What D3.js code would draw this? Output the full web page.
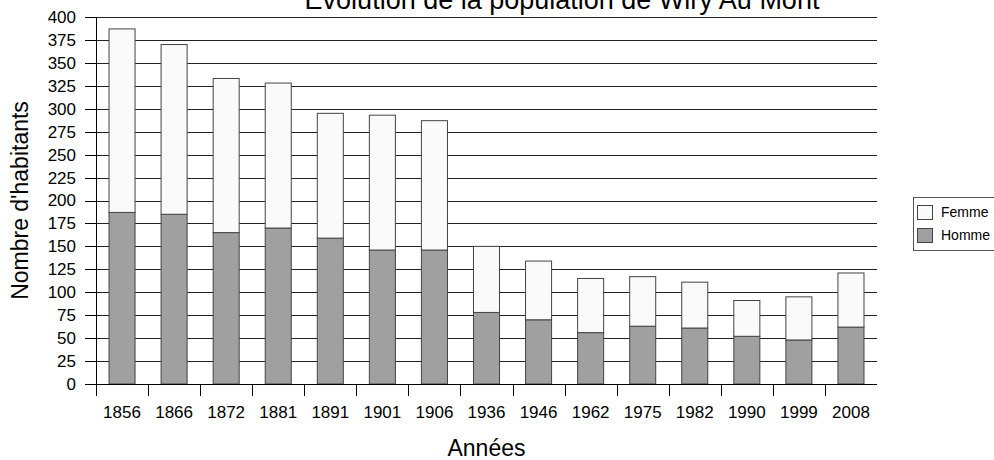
<!DOCTYPE html>
<html>
<head>
<meta charset="UTF-8">
<title>Population Wiry Au Mont</title>
<script src="https://d3js.org/d3.v7.min.js"></script>
<style>
  body { margin: 0; background: #fff; }
  svg { font-family: "Liberation Sans", Arial, sans-serif; }
  .grid line { stroke: #222; stroke-width: 1px; shape-rendering: crispEdges; }
  .axis path, .axis line { stroke: #000; shape-rendering: crispEdges; }
  .axis text { fill: #000; }
</style>
</head>
<body>
<script>
// years of the censuses
var annees = ["1856","1866","1872","1881","1891","1901","1906","1936","1946","1962","1975","1982","1990","1999","2008"];
// total population and men
var total  = [387, 370, 333, 328, 295, 293, 287, 150, 134, 115, 117, 111, 91, 95, 121];
var hommes = [187, 185, 165, 170, 159, 146, 146, 78, 70, 56, 63, 61, 52, 48, 62];
var femmes = total.map(function(t, i) { return t - hommes[i]; });
var yTicks = d3.range(0, 401, 25);

var W = 994, H = 460;
var margin = {top: 17, right: 117, bottom: 76, left: 96};
var width = W - margin.left - margin.right,
    height = H - margin.top - margin.bottom;

var svg = d3.select("body").append("svg")
    .attr("width", W).attr("height", H);

var g = svg.append("g")
    .attr("transform", "translate(" + margin.left + "," + margin.top + ")");

var x = d3.scaleBand().domain(annees).range([0, width]).paddingInner(0.5).paddingOuter(0.25);
var y = d3.scaleLinear().domain([0, 400]).range([height, 0]);

var data = annees.map(function(a, i) {
    return {annee: a, Homme: hommes[i], Femme: femmes[i]};
});
var stack = d3.stack().keys(["Homme", "Femme"])(data);
var couleurs = {Homme: "#a0a0a0", Femme: "#fafafa"};

// horizontal grid
g.append("g").attr("class", "grid")
  .selectAll("line").data(yTicks).enter().append("line")
    .attr("x1", -11).attr("x2", width)
    .attr("y1", function(d) { return Math.round(y(d)) + 0.5; })
    .attr("y2", function(d) { return Math.round(y(d)) + 0.5; });

// bars
g.selectAll(".serie").data(stack).enter().append("g")
    .attr("class", "serie")
    .attr("fill", function(s) { return couleurs[s.key]; })
  .selectAll("rect").data(function(s) { return s; }).enter().append("rect")
    .attr("x", function(d) { return x(d.data.annee); })
    .attr("width", x.bandwidth())
    .attr("y", function(d) { return y(d[1]); })
    .attr("height", function(d) { return y(d[0]) - y(d[1]); })
    .attr("stroke", "#444")
    .attr("stroke-width", 1);

// y axis
var yAxis = g.append("g").attr("class", "axis")
    .call(d3.axisLeft(y).tickValues(yTicks).tickSize(11).tickPadding(9));
yAxis.select(".domain").remove();
yAxis.append("line").attr("x1", 0.5).attr("x2", 0.5).attr("y1", 0).attr("y2", height).attr("stroke", "#000");
yAxis.selectAll("text").style("font-size", "17px");

// x axis, ticks between the bars
var step = width / annees.length;
var xa = g.append("g").attr("class", "axis")
    .attr("transform", "translate(0," + height + ")");
xa.append("line").attr("x1", 0).attr("x2", width).attr("y1", 0.5).attr("y2", 0.5).attr("stroke", "#000");
xa.selectAll(".tk").data(d3.range(annees.length)).enter().append("line")
    .attr("class", "tk")
    .attr("x1", function(i) { return Math.round(i * step) + 0.5; })
    .attr("x2", function(i) { return Math.round(i * step) + 0.5; })
    .attr("y1", 0).attr("y2", 12);
xa.selectAll("text").data(annees).enter().append("text")
    .attr("x", function(d) { return x(d) + x.bandwidth() / 2; })
    .attr("y", 34)
    .attr("text-anchor", "middle")
    .style("font-size", "17px")
    .text(function(d) { return d; });

// titles
svg.append("text")
    .attr("x", 562).attr("y", 9)
    .attr("text-anchor", "middle")
    .style("font-size", "27px")
    .text("Evolution de la population de Wiry Au Mont");

svg.append("text")
    .attr("x", margin.left + width / 2).attr("y", 456)
    .attr("text-anchor", "middle")
    .style("font-size", "23px")
    .text("Années");

svg.append("text")
    .attr("transform", "translate(28," + (margin.top + height / 2) + ") rotate(-90)")
    .attr("text-anchor", "middle")
    .style("font-size", "23px")
    .text("Nombre d'habitants");

// legend
var leg = svg.append("g").attr("transform", "translate(913,197)");
leg.append("rect").attr("x", 0.5).attr("y", 0.5).attr("width", 90).attr("height", 53)
    .attr("fill", "#fff").attr("stroke", "#555");
var items = ["Femme", "Homme"];
items.forEach(function(k, i) {
    leg.append("rect")
        .attr("x", 4.5).attr("y", 8.5 + i * 23).attr("width", 15).attr("height", 14)
        .attr("fill", couleurs[k]).attr("stroke", "#444");
    leg.append("text")
        .attr("x", 28).attr("y", 20 + i * 23)
        .style("font-size", "14px")
        .text(k);
});
</script>
</body>
</html>
